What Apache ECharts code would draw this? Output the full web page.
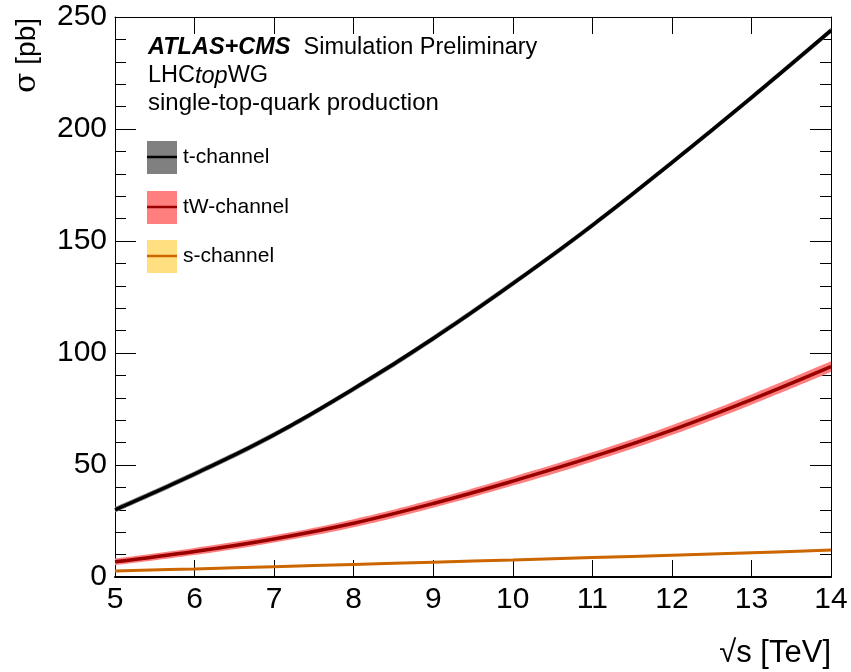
<!DOCTYPE html>
<html><head><meta charset="utf-8">
<script src="https://cdn.jsdelivr.net/npm/echarts@6/dist/echarts.min.js"></script>
<style>html,body{margin:0;padding:0;background:#fff}#c{width:851px;height:672px}</style>
</head><body><div id="c"></div>
<script>
const energies = ['5', '6', '7', '8', '9', '10', '11', '12', '13', '14'];
const tChannel = [30, 46, 63.5, 84, 106.5, 131, 157, 185, 214, 244];
const tChannelUnc = [1.2, 1.2, 1.2, 1.2, 1.2, 1.2, 1.2, 1.2, 1.2, 1.2];
const tWChannel = [6.8, 11.4, 17.0, 24.0, 32.8, 42.8, 53.6, 65.6, 79.2, 93.9];
const tWChannelUnc = [1.5, 1.6, 1.6, 1.8, 1.9, 2.0, 2.1, 2.2, 2.3, 2.4];
const sChannel = [2.7, 3.6, 4.6, 5.6, 6.6, 7.6, 8.7, 9.7, 10.8, 12.0];
const sChannelUnc = [0.35, 0.35, 0.35, 0.4, 0.4, 0.4, 0.45, 0.45, 0.5, 0.5];
const yTicks = [0, 50, 100, 150, 200, 250];

const FONT = 'Liberation Sans, Arial, Helvetica, sans-serif';
const chart = echarts.init(document.getElementById('c'), null, {renderer: 'canvas'});

function bandSeries(name, vals, unc, color) {
  const lower = vals.map((v, i) => +(v - unc[i]).toFixed(3));
  const width = unc.map(u => +(2 * u).toFixed(3));
  return [
    {type: 'line', stack: name, data: lower, smooth: 0.4, symbol: 'none',
     lineStyle: {width: 0, opacity: 0}, silent: true, z: 2},
    {type: 'line', stack: name, data: width, smooth: 0.4, symbol: 'none',
     lineStyle: {width: 0, opacity: 0}, areaStyle: {color: color, opacity: 1}, silent: true, z: 2}
  ];
}
function centralSeries(vals, color, w) {
  return {type: 'line', data: vals, smooth: 0.4, symbol: 'none',
          lineStyle: {width: w, color: color}, silent: true, z: 3};
}

const legendItems = [
  {label: 't-channel', band: '#808080', line: '#000000', y: 157},
  {label: 'tW-channel', band: '#ff7f7f', line: '#990000', y: 207},
  {label: 's-channel', band: '#ffdf7f', line: '#cc6600', y: 256}
];
const graphics = [];
legendItems.forEach(it => {
  graphics.push({type: 'rect', shape: {x: 147, y: it.y - 16, width: 30, height: 33}, style: {fill: it.band}, z: 10});
  graphics.push({type: 'line', shape: {x1: 147, y1: it.y, x2: 177, y2: it.y}, style: {stroke: it.line, lineWidth: 2.5}, z: 11});
  graphics.push({type: 'text', x: 183, y: it.y, style: {text: it.label, font: '21px ' + FONT, fill: '#000', textVerticalAlign: 'middle'}, z: 11});
});
graphics.push({type: 'text', x: 148, y: 48, z: 11, style: {
  text: '{b|ATLAS+CMS}  Simulation Preliminary', textVerticalAlign: 'middle',
  font: '23.5px ' + FONT, fill: '#000',
  rich: {b: {font: 'italic bold 23.5px ' + FONT, fill: '#000'}}
}});
graphics.push({type: 'text', x: 148, y: 76, z: 11, style: {
  text: 'LHC{i|top}WG', textVerticalAlign: 'middle', font: '23.5px ' + FONT, fill: '#000',
  rich: {i: {font: 'italic 23.5px ' + FONT, fill: '#000'}}
}});
graphics.push({type: 'text', x: 148, y: 103, z: 11, style: {
  text: 'single-top-quark production', textVerticalAlign: 'middle', font: '24px ' + FONT, fill: '#000'
}});
graphics.push({type: 'text', x: 27, y: 18, rotation: Math.PI / 2, z: 11, style: {
  text: '{s|σ} [pb]', font: '28px ' + FONT, fill: '#000', textAlign: 'right', textVerticalAlign: 'middle',
  rich: {s: {font: '30px "DejaVu Serif", "Liberation Serif", serif', fill: '#000'}}
}});
graphics.push({type: 'text', x: 831, y: 653, z: 11, style: {
  text: '√s [TeV]', font: '31px ' + FONT, fill: '#000', textAlign: 'right', textVerticalAlign: 'middle'
}});

const option = {
  animation: false,
  backgroundColor: '#fff',
  grid: {left: 115, right: 20, top: 17, bottom: 95, containLabel: false},
  xAxis: [
    {type: 'category', data: energies, boundaryGap: false, position: 'bottom',
     axisLine: {show: true, onZero: false, lineStyle: {color: '#000', width: 2}},
     axisTick: {show: true, inside: true, length: 17, lineStyle: {color: '#000', width: 1}},
     axisLabel: {show: true, color: '#000', fontSize: 30, fontFamily: FONT, margin: 8, interval: 0},
     splitLine: {show: false}},
    {type: 'category', data: energies, boundaryGap: false, position: 'top',
     axisLine: {show: true, onZero: false, lineStyle: {color: '#000', width: 1}},
     axisTick: {show: true, inside: true, length: 17, lineStyle: {color: '#000', width: 1}},
     axisLabel: {show: false}, splitLine: {show: false}}
  ],
  yAxis: [
    {type: 'value', min: 0, max: 250, interval: 50, position: 'left',
     axisLine: {show: true, onZero: false, lineStyle: {color: '#000', width: 1}},
     axisTick: {show: true, inside: true, length: 21, lineStyle: {color: '#000', width: 1}},
     minorTick: {show: true, splitNumber: 5, length: 11, lineStyle: {color: '#000', width: 1}},
     axisLabel: {show: true, color: '#000', fontSize: 30, fontFamily: FONT, margin: 8,
                 formatter: v => yTicks.includes(v) ? String(v) : ''},
     splitLine: {show: false}, minorSplitLine: {show: false}},
    {type: 'value', min: 0, max: 250, interval: 50, position: 'right',
     axisLine: {show: true, onZero: false, lineStyle: {color: '#000', width: 1}},
     axisTick: {show: true, inside: true, length: 21, lineStyle: {color: '#000', width: 1}},
     minorTick: {show: true, splitNumber: 5, length: 11, lineStyle: {color: '#000', width: 1}},
     axisLabel: {show: false}, splitLine: {show: false}, minorSplitLine: {show: false}}
  ],
  series: [
    ...bandSeries('t', tChannel, tChannelUnc, '#808080'),
    ...bandSeries('tW', tWChannel, tWChannelUnc, '#ff7f7f'),
    ...bandSeries('s', sChannel, sChannelUnc, '#ffdf7f'),
    centralSeries(tChannel, '#000000', 3.5),
    centralSeries(tWChannel, '#990000', 3.5),
    centralSeries(sChannel, '#cc6600', 3)
  ],
  graphic: graphics
};
chart.setOption(option);
</script>
</body></html>
